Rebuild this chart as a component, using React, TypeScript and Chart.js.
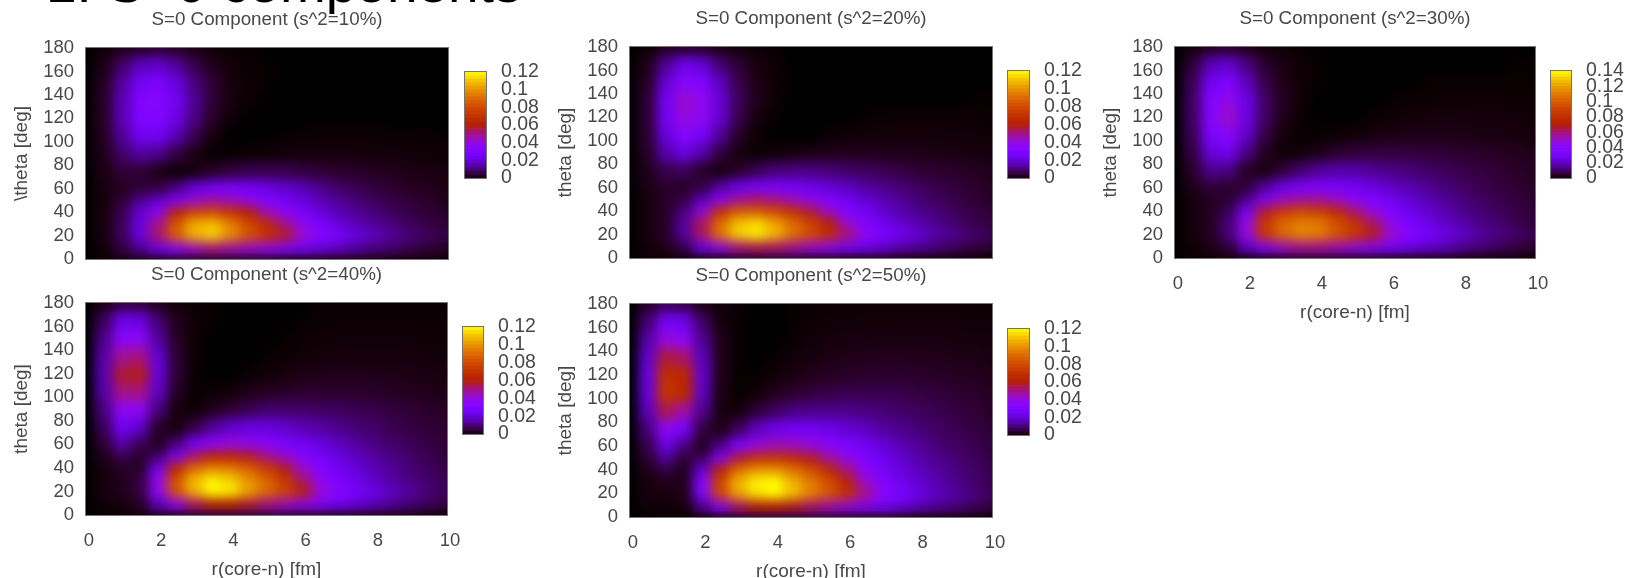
import React, { useEffect, useRef } from "react";
import { Chart, registerables } from "chart.js";

Chart.register(...registerables);

const heading = "1. S=0 components";
const rCenters = [0, 0.5, 1, 1.5, 2, 2.5, 3, 3.5, 4, 4.5, 5, 5.5, 6, 6.5, 7, 7.5, 8, 8.5, 9, 9.5, 10];
const thetaEdges = [187.5, 172.5, 157.5, 142.5, 127.5, 112.5, 97.5, 82.5, 67.5, 55, 45, 35, 25, 15, 5, -5];
const xTicks = [0, 2, 4, 6, 8, 10];
const colorLevels = [0, 0.004, 0.008, 0.012, 0.016, 0.02, 0.024, 0.028, 0.032, 0.036, 0.04, 0.044, 0.048, 0.052, 0.056, 0.06, 0.064, 0.068, 0.072, 0.076, 0.08, 0.084, 0.088, 0.092, 0.096, 0.1, 0.104, 0.108, 0.112, 0.116, 0.12, 0.124, 0.128, 0.132, 0.136, 0.14];

// Density, in units of 0.001. Rows run theta = 180,165,...,75,60,50,...,10,0
const s10 = [
  [0,.5,2,3,4,3,1.5,.6,.2,.1,0,0,0,0,0,0,0,0,0,0,0],
  [0,1.5,8,16,18,13,6,2,.6,.2,.1,0,0,0,0,0,0,0,0,0,0],
  [0,2.5,13,25,28,21,10,4,1,.3,.1,0,0,0,0,0,0,0,0,0,0],
  [0,3,15,30,33,24,12,4,1,.2,0,0,0,0,0,0,0,0,0,0,0],
  [0,3,15,29,31,22,10,3,.4,0,0,0,0,0,0,0,0,0,0,0,0],
  [0,2.5,12,23,24,15,6,1,0,0,0,.1,.2,.3,.3,.3,.3,.2,.2,.2,.1],
  [0,2,8,13,11,5,1.5,.1,.1,.3,.5,.7,.8,.9,.9,.8,.7,.6,.5,.4,.3],
  [0,1.5,4,4,1.5,.3,1,3,5,6,6,6,5,4,3.5,3,2.5,2,1.5,1.2,1],
  [0,1,2.5,4,5,10,20,25,27,25,22,18,15,11,8,6,4.5,3.5,2.5,2,1.5],
  [0,1,4,12,18,30,42,47,45,38,30,25,20,15,12,9,7,5,4,3,2],
  [0,1,6,18,36,62,76,78,70,60,46,35,27,20,15,12,9,7,5,4,3],
  [0,1,7,20,50,84,106,110,96,80,66,50,36,27,20,15,12,9,7,5,4],
  [0,1,7,20,52,86,106,112,98,82,70,58,42,32,26,20,16,12,9,7,5],
  [0,.5,5,12,22,34,44,50,46,42,38,32,26,21,17,13,10,8,6,4,3],
  [0,.3,1,2,3,4,4,4,4,4,4,3,3,3,2,2,1.5,1.2,1,.8,.5],
];
const s20 = [
  [0,.5,2,3,3,1.5,.7,.3,.1,0,0,0,0,0,0,0,0,0,0,0,0],
  [0,2,12,22,19,9,4,1,.3,0,0,0,0,0,0,0,0,0,0,0,0],
  [0,3,19,34,31,16,6,1.5,.4,0,0,0,0,0,0,0,0,0,0,0,0],
  [0,4,25,42,37,19,7,2,.3,0,0,0,0,0,0,0,0,0,0,.1,.1],
  [0,4,25,40,36,18,6,1,.1,0,0,0,0,.1,.2,.3,.3,.3,.3,.3,.2],
  [0,4,20,33,26,12,3,.4,0,0,0,.2,.4,.6,.7,.7,.7,.6,.5,.5,.4],
  [0,3,14,21,14,5,1,.2,.5,1,1.5,1.8,2,2,1.9,1.8,1.6,1.4,1.2,1,.8],
  [0,2,6,7,3,1,3,6,9,10,10,9,8,7,6,5,4,3.5,3,2.5,2],
  [0,1.5,3,3,5,13,21,26,27,25,22,19,16,13,11,9,7,5.5,4.5,3.5,2.5],
  [0,1,3,5,15,34,48,52,50,44,37,30,24,19,15,12,9,7,5.5,4,3],
  [0,1,3,10,38,68,84,84,78,68,56,42,30,24,18,14,11,9,7,5,4],
  [0,1,3,13,54,90,110,114,104,90,76,60,42,30,23,18,14,11,8,6,5],
  [0,1,3,13,52,92,112,118,108,92,80,68,52,36,28,23,18,14,11,8,6],
  [0,.5,2,6,22,38,50,54,52,48,42,36,29,24,19,15,12,9,7,5,4],
  [0,.3,.5,1,2,3,4,4,5,5,4,4,3,3,3,2,2,1.5,1,.8,.5],
];
const s30 = [
  [0,1,3,4,2.5,1,.5,.2,0,0,0,0,0,0,0,0,0,0,0,0,0],
  [0,5,18,21,12,4,1.5,.5,.1,0,0,0,0,0,0,0,0,0,0,.1,.1],
  [0,8,28,34,19,7,2,.5,.1,0,0,0,0,0,.1,.2,.2,.2,.2,.2,.2],
  [0,9,36,45,25,9,3,.5,0,0,0,0,.1,.2,.3,.4,.4,.4,.4,.3,.3],
  [0,9,38,50,25,9,2,.3,0,0,0,.2,.4,.7,.9,1,1,.9,.8,.7,.6],
  [0,8,33,39,20,6,1,.1,.1,.4,.8,1.2,1.6,1.8,1.9,1.9,1.7,1.5,1.3,1.1,.9],
  [0,6,23,27,12,3,.5,.8,2,4,5,5.5,5.5,5.5,5,4.5,4,3.5,3,2.5,2],
  [0,4,13,12,3,1.5,5,10,14,16,16,14,12,11,9,8,6.5,5.5,4.5,3.5,3],
  [0,2,5,4,5,14,24,31,33,31,28,24,20,17,14,11,9,7,5.5,4.5,3.5],
  [0,1,3,4,13,34,50,56,56,50,42,35,28,22,18,14,11,9,7,5.5,4],
  [0,1,3,8,32,66,84,90,86,76,60,46,35,27,21,17,13,10,8,6,5],
  [0,1,3,11,46,84,104,112,110,96,82,62,44,33,26,20,16,12,10,7,5],
  [0,1,3,11,46,84,102,112,110,96,84,68,50,37,30,25,20,15,12,9,7],
  [0,.5,2,5,20,36,50,56,56,52,46,40,33,27,22,18,14,11,8,6,4],
  [0,.3,.5,1,2,3,4,5,5,5,5,4,4,3,3,3,2,1.5,1.2,1,.6],
];
const s40 = [
  [0,1.5,5,5,2,.6,.3,.1,0,0,0,0,0,.1,.2,.2,.2,.2,.2,.2,.2],
  [0,7,22,21,9,2,.5,.1,0,0,0,0,.1,.2,.3,.3,.3,.3,.3,.3,.3],
  [0,11,34,34,13,3,.4,0,0,0,0,.1,.3,.4,.5,.5,.5,.5,.5,.4,.4],
  [0,14,48,50,19,4,.3,0,0,0,.1,.3,.5,.7,.8,.9,.9,.9,.8,.7,.6],
  [0,15,56,58,20,4,.2,0,0,.2,.5,1,1.4,1.7,1.8,1.8,1.7,1.6,1.4,1.2,1],
  [0,14,50,50,17,3,.1,.2,.7,1.5,2.5,3,3.5,3.5,3.5,3.3,3,2.6,2.2,1.9,1.5],
  [0,10,36,36,10,1,.3,2,4,6,8,8,8,7.5,7,6,5.5,4.5,4,3,2.5],
  [0,7,24,18,3,1,5,12,17,20,20,18,15,13,11,9,8,6,5,4,3.5],
  [0,4,14,7,2,9,24,34,39,38,33,28,24,20,16,13,10,8,6.5,5,4],
  [0,2,6,3,8,30,52,62,63,58,50,42,33,26,21,16,13,10,8,6,4.5],
  [0,1,3,3,24,64,88,96,94,86,74,58,42,31,24,19,15,12,9,7,5],
  [0,1,2,5,38,82,108,118,112,100,88,72,52,36,28,22,17,13,10,8,6],
  [0,1,2,5,36,82,106,120,118,104,90,78,62,42,32,26,21,16,13,9,7],
  [0,.5,1,3,16,36,52,60,60,56,50,44,38,31,25,20,16,12,9,7,5],
  [0,.2,.4,.8,2,3,4,5,5,5,5,5,4,4,3,3,2,2,1.5,1,.7],
];
const s50 = [
  [0,3,7,6,2,.5,.2,0,0,.1,.2,.3,.4,.4,.4,.4,.4,.4,.4,.3,.3],
  [0,9,26,23,8,1,.1,0,0,.1,.3,.4,.5,.6,.6,.7,.7,.7,.6,.5,.5],
  [0,14,40,36,12,2,.1,0,0,.2,.5,.8,1,1.1,1.2,1.2,1.2,1.1,1,.9,.8],
  [0,18,56,52,16,2,.1,0,.1,.5,1,1.4,1.8,2,2.1,2.1,2,1.9,1.7,1.5,1.2],
  [0,20,68,64,18,2,.1,.1,.5,1.2,2,2.5,3,3.3,3.4,3.3,3.1,2.8,2.5,2.2,1.8],
  [0,20,70,64,17,1.5,.1,.6,2,3.5,4.5,5.5,6,6,6,5.5,5,4.5,3.8,3.2,2.6],
  [0,16,54,46,12,1,.8,4,7,10,11,11,11,10,9,8,7,6,5,4,3],
  [0,10,36,26,5,1.5,7,16,22,24,24,22,19,16,13,11,9,7.5,6,5,4],
  [0,6,22,11,2,10,28,40,45,44,40,34,29,24,19,15,12,9,7.5,6,4.5],
  [0,4,12,4,7,31,56,68,70,66,58,48,38,29,23,18,14,11,9,7,5],
  [0,2,5,2,20,62,90,100,100,92,80,66,50,35,26,20,16,13,10,8,6],
  [0,1,2,2,32,78,106,118,120,106,94,80,62,42,30,23,18,14,11,8,6],
  [0,1,1,2,30,78,104,116,120,110,96,84,70,50,34,27,21,16,13,10,7],
  [0,.5,.5,1,12,34,52,60,62,58,52,46,40,33,26,21,16,12,10,7,5],
  [0,.2,.2,.3,1.5,3,4,5,5,5,5,5,4,4,4,3,2,2,1.5,1,.7],
];

const TEXT = "#484848";
const FAMILY = "'Liberation Sans', Arial, sans-serif";

// gnuplot's default pm3d palette (rgbformulae 7,5,15)
function palette(t: number) {
  const x = Math.min(1, Math.max(0, t));
  const r = Math.sqrt(x);
  const g = x * x * x;
  const b = Math.max(0, Math.sin(2 * Math.PI * x));
  return `rgb(${Math.round(r * 255)},${Math.round(g * 255)},${Math.round(b * 255)})`;
}

function fmtTick(v: number | string) {
  return String(+Number(v).toFixed(2));
}

const frame = {
  id: "frame",
  afterDraw(chart: any) {
    const { ctx, chartArea: a } = chart;
    ctx.save();
    ctx.strokeStyle = "rgba(70,70,70,0.75)";
    ctx.lineWidth = 1;
    ctx.strokeRect(a.left - 0.5, a.top - 0.5, a.width + 1, a.height + 1);
    ctx.restore();
  },
};

// softens the finished cells the way gnuplot's interpolated pm3d surface looks
const soften = {
  id: "soften",
  afterDatasetsDraw(chart: any) {
    const { ctx, canvas, chartArea: a } = chart;
    ctx.save();
    ctx.beginPath();
    ctx.rect(a.left, a.top, a.width, a.height);
    ctx.clip();
    ctx.filter = "blur(6px)";
    ctx.drawImage(canvas, a.left, a.top, a.width, a.height, a.left, a.top, a.width, a.height);
    ctx.restore();
  },
};

type PanelProps = {
  title: string;
  yTitle: string;
  rows: number[][];
  max: number;
  plot: [number, number, number, number];
  bar: [number, number, number, number];
  showX: boolean;
};

const LEFT = 86;
const TOP = 44;
const RIGHT = 24;
const CB_MARGIN = 14;

function Panel({ title, yTitle, rows, max, plot, bar, showX }: PanelProps) {
  const heatRef = useRef<HTMLCanvasElement>(null);
  const barRef = useRef<HTMLCanvasElement>(null);
  const bottom = showX ? 70 : 14;
  const [pl, pt, pr, pb] = plot;
  const [bl, bt, br, bb] = bar;

  useEffect(() => {
    const datasets = rows.map((row, i) => ({
      data: row.map((v, j) => ({ x: rCenters[j], y: [thetaEdges[i + 1], thetaEdges[i]], v })),
      backgroundColor: (c: any) => palette((c.raw ? c.raw.v : 0) / 1000 / max),
      borderWidth: 0,
      barPercentage: 1,
      categoryPercentage: 1,
      grouped: false,
    }));
    const heat = new Chart(heatRef.current!, {
      type: "bar",
      data: { datasets: datasets as any },
      plugins: [soften, frame],
      options: {
        animation: false,
        responsive: false,
        events: [],
        layout: { padding: { right: RIGHT } },
        plugins: {
          legend: { display: false },
          tooltip: { enabled: false },
          title: {
            display: true,
            text: title,
            fullSize: false,
            color: TEXT,
            font: { family: FAMILY, size: 18.8, weight: "normal" },
            padding: { top: 5, bottom: 16.44 },
          },
        },
        scales: {
          x: {
            type: "linear",
            offset: false,
            min: 0,
            max: 10,
            grid: { display: false, drawTicks: false },
            border: { display: false },
            afterBuildTicks: (s: any) => {
              s.ticks = xTicks.map((value) => ({ value }));
            },
            ticks: {
              display: showX,
              padding: 15,
              labelOffset: 3,
              maxRotation: 0,
              autoSkip: false,
              color: TEXT,
              font: { family: FAMILY, size: 18.5 },
            },
            title: {
              display: showX,
              text: "r(core-n) [fm]",
              color: TEXT,
              font: { family: FAMILY, size: 19 },
              padding: { top: 0, bottom: 4 },
            },
            afterFit: (s: any) => {
              s.height = bottom;
              s.paddingLeft = 0;
              s.paddingRight = 0;
            },
          },
          y: {
            type: "linear",
            min: 0,
            max: 180,
            grid: { display: false, drawTicks: false },
            border: { display: false },
            ticks: {
              stepSize: 20,
              padding: 12,
              autoSkip: false,
              color: TEXT,
              font: { family: FAMILY, size: 18.5 },
            },
            title: {
              display: true,
              text: yTitle,
              color: TEXT,
              font: { family: FAMILY, size: 19 },
              padding: { top: 10.6, bottom: 0 },
            },
            afterFit: (s: any) => {
              s.width = LEFT;
              s.paddingTop = 0;
              s.paddingBottom = 0;
            },
          },
        },
      } as any,
    });

    const levels = colorLevels.filter((l) => l < max);
    const cb = new Chart(barRef.current!, {
      type: "bar",
      data: {
        labels: ["c"],
        datasets: levels.map((l, i) => ({
          data: [[l, i + 1 < levels.length ? levels[i + 1] : max]],
          backgroundColor: palette((l + 0.002) / max),
          borderWidth: 0,
          barPercentage: 1,
          categoryPercentage: 1,
          grouped: false,
        })) as any,
      },
      plugins: [frame],
      options: {
        animation: false,
        responsive: false,
        events: [],
        layout: { padding: { left: 2, top: CB_MARGIN, bottom: CB_MARGIN } },
        plugins: { legend: { display: false }, tooltip: { enabled: false } },
        scales: {
          x: { display: false },
          y: {
            position: "right",
            min: 0,
            max,
            grid: { display: false, drawTicks: false },
            border: { display: false },
            ticks: {
              stepSize: 0.02,
              padding: 15,
              autoSkip: false,
              color: TEXT,
              font: { family: FAMILY, size: 19.5 },
              callback: fmtTick,
            },
            afterFit: (s: any) => {
              s.width = 60;
              s.paddingTop = 0;
              s.paddingBottom = 0;
            },
          },
        },
      } as any,
    });
    return () => {
      heat.destroy();
      cb.destroy();
    };
  }, []);

  const abs = (left: number, top: number): React.CSSProperties => ({ position: "absolute", left, top });
  return (
    <>
      <canvas
        ref={heatRef}
        width={pr - pl + LEFT + RIGHT}
        height={pb - pt + TOP + bottom}
        style={abs(pl - LEFT, pt - TOP)}
      />
      <canvas
        ref={barRef}
        width={br - bl + 62}
        height={bb - bt + 2 * CB_MARGIN}
        style={abs(bl - 2, bt - CB_MARGIN)}
      />
    </>
  );
}

export default function App() {
  return (
    <div
      style={{
        position: "absolute",
        left: 0,
        top: 0,
        width: 1625,
        height: 578,
        overflow: "hidden",
        background: "#fff",
      }}
    >
      <div
        style={{
          position: "absolute",
          left: 46,
          top: -47,
          fontFamily: FAMILY,
          fontSize: 55,
          lineHeight: "60px",
          color: "#000",
          whiteSpace: "nowrap",
        }}
      >
        {heading}
      </div>
      <Panel title="S=0 Component (s^2=10%)" yTitle="\theta [deg]" rows={s10} max={0.12} plot={[86, 48, 448, 259]} bar={[465, 72, 486, 178]} showX={false} />
      <Panel title="S=0 Component (s^2=20%)" yTitle="theta [deg]" rows={s20} max={0.12} plot={[630, 47, 992, 258]} bar={[1008, 71, 1029, 178]} showX={false} />
      <Panel title="S=0 Component (s^2=30%)" yTitle="theta [deg]" rows={s30} max={0.14} plot={[1175, 47, 1535, 258]} bar={[1551, 71, 1571, 178]} showX={true} />
      <Panel title="S=0 Component (s^2=40%)" yTitle="theta [deg]" rows={s40} max={0.12} plot={[86, 303, 447, 515]} bar={[463, 327, 483, 434]} showX={true} />
      <Panel title="S=0 Component (s^2=50%)" yTitle="theta [deg]" rows={s50} max={0.12} plot={[630, 304, 992, 517]} bar={[1008, 329, 1029, 435]} showX={true} />
    </div>
  );
}
